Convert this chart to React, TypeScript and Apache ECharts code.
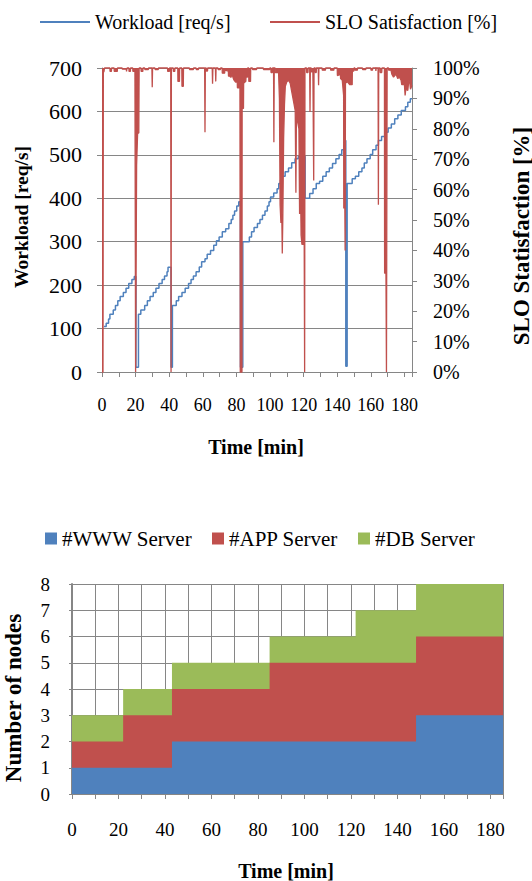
import React, { useEffect, useRef } from "react";
import * as echarts from "echarts";

const FONT = "Liberation Serif, Times New Roman, serif";
const BLUE = "#4F81BD";
const RED = "#C0504D";
const GREEN = "#9BBB59";
const GRAY = "#868686";

// ---- Top chart: workload [req/s] (time in min, value) ----
const workloadPoints: [number, number][] = [
  [1.2, 105], [2.5, 112], [3.9, 122], [4.7, 133], [6.7, 143], [8.0, 153], [9.4, 164], [10.8, 174],
  [12.7, 183], [14.3, 193], [15.9, 204], [17.8, 213], [19.2, 220], [20.2, 11],
  [21.7, 133], [23.1, 143], [25.4, 153], [27.0, 164], [28.6, 174], [30.5, 183], [32.1, 193],
  [33.9, 204], [35.8, 213], [37.2, 221], [38.7, 231], [39.3, 241], [41.1, 11],
  [41.9, 153], [44.2, 164], [45.6, 174], [47.6, 183], [49.5, 193], [51.5, 204], [53.0, 213],
  [54.4, 221], [56.0, 231], [57.9, 242], [59.3, 254], [61.3, 261], [62.6, 271], [64.6, 280],
  [66.5, 292], [68.1, 302], [69.7, 311], [71.6, 323], [73.6, 330], [75.5, 342], [76.9, 351],
  [77.9, 361], [78.9, 371], [80.2, 382], [81.4, 392], [82.4, 11],
  [83.8, 300], [87.7, 311], [89.0, 323], [90.5, 333], [92.5, 342], [94.0, 351], [95.5, 361],
  [97.0, 371], [98.4, 382], [99.4, 392], [100.3, 403], [102.2, 412], [104.2, 422], [105.2, 434],
  [106.2, 442], [107.1, 451], [109.0, 461], [111.0, 470], [112.9, 482], [114.9, 491], [116.8, 496],
  [120.9, 400], [123.6, 411], [125.6, 422], [127.5, 434], [129.5, 439], [131.4, 451], [133.4, 461],
  [135.3, 470], [137.2, 480], [139.2, 491], [141.1, 501], [142.7, 512], [144.0, 522], [144.6, 533],
  [145.1, 13], [145.9, 434], [148.9, 445], [150.8, 451], [152.8, 461], [154.7, 470], [156.1, 481],
  [157.7, 491], [159.6, 501], [161.1, 512], [163.1, 522], [164.5, 533], [166.4, 542], [168.3, 552],
  [170.3, 562], [172.2, 571], [174.2, 583], [176.1, 592], [178.1, 602], [180.6, 611], [182.0, 621],
  [183.5, 629], [184.5, 629],
];

// ---- Top chart: SLO satisfaction [%] (time in min, percent) ----
const sloPoints: [number, number][] = [
  [0, 0], [0.6, 0], [0.8, 100],
  [1.0, 100], [1.1, 98.6], [1.4, 98.6], [1.5, 100],
  [4.7, 100], [4.8, 98.9], [5.6, 98.9], [5.7, 100],
  [7.2, 100], [7.3, 98.9], [9.1, 98.9], [9.2, 100],
  [12.0, 100], [12.1, 99.6], [14.5, 99.6], [14.6, 98.9], [14.8, 99.6], [15.0, 100],
  [16.0, 100], [16.1, 98.9], [16.9, 98.9], [17.0, 100],
  [18.3, 100], [18.4, 98.9], [19.4, 98.9], [19.6, 100],
  [19.9, 100], [20.0, 0], [20.4, 0], [20.6, 68], [21.0, 68], [21.2, 78.6], [21.9, 78.6], [22.1, 100],
  [23.2, 100], [23.3, 98.9], [24.3, 98.9], [24.4, 100],
  [25.4, 100], [25.5, 99.5], [27.6, 99.5], [27.7, 100],
  [29.7, 100], [29.9, 93.7], [30.1, 100],
  [31.5, 100], [31.6, 99.5], [33.5, 99.5], [33.6, 100],
  [39.0, 100], [39.1, 98.9], [40.1, 98.9], [40.2, 100],
  [40.9, 100], [41.1, 0], [41.3, 100],
  [42.4, 100], [42.5, 98.9], [43.3, 98.9], [43.4, 100],
  [45.1, 100], [45.2, 95.6], [46.1, 95.6], [46.2, 100],
  [47.5, 100], [47.6, 94.0], [48.4, 94.0], [48.5, 100],
  [52.0, 100], [52.1, 99.5], [54.4, 99.5], [54.5, 100],
  [56.0, 100], [56.1, 99.5], [57.4, 99.5], [57.5, 100],
  [61.1, 100], [61.3, 78.9], [61.5, 100],
  [62.0, 100], [62.1, 99], [62.8, 99], [62.9, 100],
  [65.6, 100], [65.8, 94.8], [66.0, 100],
  [67.5, 100], [67.7, 95.6], [67.9, 100],
  [69.0, 100], [69.1, 99.5], [70.5, 99.5], [70.6, 100],
  [71.5, 100], [71.6, 98.3], [73.0, 98.3], [73.1, 99.3], [75.2, 99], [75.3, 97.3], [76.3, 97.3],
  [76.4, 97], [76.9, 97], [77.0, 98.5], [78.4, 96.2], [79.4, 95.4], [80.5, 95.4], [80.6, 93.5],
  [82.1, 93.5], [82.3, 0], [83.3, 0], [83.4, 86.7], [84.2, 86.7], [84.3, 95], [85.6, 95.6],
  [85.7, 97], [86.6, 97], [86.7, 100],
  [87.3, 100], [87.4, 95.6], [88.4, 95.6], [88.5, 100],
  [89.5, 100], [89.6, 99.5], [92.0, 99.5], [92.1, 100],
  [96.0, 100], [96.1, 99.5], [99.8, 99.5], [99.9, 100],
  [100.5, 100], [100.6, 98.5], [101.4, 98.5], [101.5, 100],
  [102.1, 100], [102.3, 75.6], [102.5, 100],
  [103.0, 100], [103.1, 98.5], [104.9, 98.5], [105.0, 100],
  [105.3, 100], [105.6, 90], [106.0, 55], [106.5, 49], [107.0, 52], [107.3, 39], [107.6, 50],
  [108.1, 77], [108.6, 88], [109.1, 94], [110.0, 95.5], [111.0, 96], [112.0, 95], [113.0, 92],
  [114.0, 89], [115.0, 86], [115.4, 59], [115.7, 84], [116.5, 82], [117.2, 80], [117.6, 52],
  [118.0, 70], [118.5, 45], [119.0, 42], [119.8, 42], [120.0, 100],
  [120.4, 100], [120.6, 0], [120.8, 100],
  [121.7, 100], [121.8, 98.5], [122.6, 98.5], [122.7, 100],
  [123.6, 100], [123.8, 85.5], [124.0, 100],
  [124.5, 100], [124.6, 98.7], [125.4, 98.7], [125.5, 100],
  [125.8, 100], [126.0, 63], [126.2, 100],
  [126.9, 100], [127.0, 98.5], [127.5, 98.5], [127.6, 100],
  [128.7, 100], [128.9, 94.3], [129.1, 100],
  [131.0, 100], [131.1, 99.3], [133.0, 99.3], [133.1, 100],
  [136.0, 100], [136.1, 99.3], [138.0, 99.3], [138.1, 100],
  [140.0, 100], [140.1, 97.5], [141.9, 98], [142.0, 96.5], [143.0, 96], [143.8, 91], [143.9, 53.8],
  [144.1, 93], [144.5, 93], [144.7, 40], [144.9, 95], [146.0, 95.5], [147.5, 94.5], [148.9, 94.5],
  [149.0, 99], [149.9, 99], [150.0, 100],
  [150.5, 100], [150.6, 99.3], [152.0, 99.3], [152.1, 100],
  [155.0, 100], [155.1, 99.5], [157.0, 99.5], [157.1, 100],
  [160.0, 100], [160.1, 99.3], [161.0, 99.3], [161.1, 100],
  [162.9, 100], [163.0, 99], [163.2, 100],
  [164.3, 100], [164.5, 55], [164.7, 100],
  [165.5, 100], [165.6, 98.5], [166.5, 98.5], [166.6, 100],
  [168.1, 100], [168.2, 32.5], [169.0, 32.5], [169.3, 0], [169.5, 0], [169.7, 100],
  [170.5, 100], [170.6, 99.3], [172.0, 99.3], [172.5, 98.0], [173.5, 97.0], [175.0, 98.0],
  [176.0, 96.5], [177.0, 97.0], [178.0, 96.0], [178.4, 94.5], [180.0, 94.5], [180.4, 91],
  [180.8, 93], [182.0, 92.6], [182.6, 96], [183.2, 95], [183.6, 93], [184.5, 94.3],
];

// ---- Bottom chart: number of nodes per tier (change times in min) ----
const nodeTimes = [0, 22, 43, 85, 122, 148, 185.4];
const wwwNodes = [1, 1, 2, 2, 2, 3, 3];
const appNodes = [1, 2, 2, 3, 3, 3, 3];
const dbNodes = [1, 1, 1, 1, 2, 2, 2];

const TOP_X_MAX = 184.5;
const BOTTOM_X_MAX = 185.4;

export default function App() {
  const ref = useRef<HTMLDivElement>(null);

  useEffect(() => {
    if (!ref.current) return;
    const chart = echarts.init(ref.current, undefined, { renderer: "svg" });

    const axisLabel = (size: number, margin: number, extra: any = {}) => ({
      fontFamily: FONT,
      fontSize: size,
      color: "#000",
      margin,
      ...extra,
    });
    const grayLine = { show: true, lineStyle: { color: GRAY, width: 1 } };
    const every20 = (v: number) => (Math.abs(v % 20) < 1e-6 ? String(v) : "");

    // cumulative tops of the stack, drawn back-to-front
    const wwwTop = wwwNodes.slice();
    const appTop = appNodes.map((v, i) => v + wwwNodes[i]);
    const dbTop = dbNodes.map((v, i) => v + appTop[i]);

    const stepSeries = (name: string, vals: number[], color: string, z: number) => ({
      name,
      type: "line",
      xAxisIndex: 1,
      yAxisIndex: 2,
      step: "end",
      symbol: "none",
      showSymbol: false,
      color,
      z,
      itemStyle: { color },
      lineStyle: { width: 0, color },
      areaStyle: { color, opacity: 1, origin: "start" },
      data: nodeTimes.map((t, i) => [t, vals[i]]),
    });

    const legendBase = {
      padding: 0,
      selectedMode: false,
      icon: "rect",
    };
    const legendText = (size: number) => ({ fontFamily: FONT, fontSize: size, color: "#000" });

    const titleText = (text: string, x: number, y: number, size: number, rotate: boolean) => ({
      type: "text",
      x,
      y,
      rotation: rotate ? Math.PI / 2 : 0,
      style: {
        text,
        fontFamily: FONT,
        fontWeight: "bold",
        fontSize: size,
        fill: "#000",
        align: "center",
        verticalAlign: "middle",
      },
    });

    const option: any = {
      animation: false,
      backgroundColor: "#fff",
      textStyle: { fontFamily: FONT, color: "#000" },
      legend: [
        { ...legendBase, left: 40, top: 12, itemWidth: 50, itemHeight: 2, textStyle: legendText(20), data: ["Workload [req/s]"] },
        { ...legendBase, left: 270, top: 12, itemWidth: 50, itemHeight: 2, textStyle: legendText(20), data: ["SLO Satisfaction [%]"] },
        { ...legendBase, left: 45, top: 528, itemWidth: 12, itemHeight: 12, textStyle: legendText(21), data: ["#WWW Server"] },
        { ...legendBase, left: 212, top: 528, itemWidth: 12, itemHeight: 12, textStyle: legendText(21), data: ["#APP Server"] },
        { ...legendBase, left: 358, top: 528, itemWidth: 12, itemHeight: 12, textStyle: legendText(21), data: ["#DB Server"] },
      ],
      grid: [
        { left: 102, top: 68, width: 310, height: 304 },
        { left: 72, top: 584, width: 431, height: 210 },
      ],
      xAxis: [
        {
          type: "value",
          gridIndex: 0,
          min: 0,
          max: TOP_X_MAX,
          interval: 10,
          axisLine: grayLine,
          axisTick: { show: true, length: 5, lineStyle: { color: GRAY } },
          splitLine: { show: false },
          axisLabel: axisLabel(18, 24, { formatter: every20 }),
        },
        {
          type: "value",
          gridIndex: 1,
          min: 0,
          max: BOTTOM_X_MAX,
          interval: 10,
          axisLine: grayLine,
          axisTick: { show: true, length: 5, lineStyle: { color: GRAY } },
          splitLine: { show: true, lineStyle: { color: GRAY, width: 1 } },
          axisLabel: axisLabel(19, 26, { formatter: every20 }),
        },
      ],
      yAxis: [
        {
          type: "value",
          gridIndex: 0,
          position: "left",
          min: 0,
          max: 700,
          interval: 100,
          axisLine: grayLine,
          axisTick: { show: true, length: 5, lineStyle: { color: GRAY } },
          splitLine: { show: true, lineStyle: { color: GRAY, width: 1 } },
          axisLabel: axisLabel(22, 20),
        },
        {
          type: "value",
          gridIndex: 0,
          position: "right",
          min: 0,
          max: 100,
          interval: 10,
          axisLine: grayLine,
          axisTick: { show: true, length: 5, lineStyle: { color: GRAY } },
          splitLine: { show: false },
          axisLabel: axisLabel(20, 21, { formatter: "{value}%" }),
        },
        {
          type: "value",
          gridIndex: 1,
          min: 0,
          max: 8,
          interval: 1,
          axisLine: { show: true, lineStyle: { color: GRAY, width: 2 } },
          axisTick: { show: true, length: 3, lineStyle: { color: GRAY } },
          splitLine: { show: true, lineStyle: { color: GRAY, width: 1 } },
          axisLabel: axisLabel(19, 22),
        },
      ],
      series: [
        {
          name: "Workload [req/s]",
          type: "line",
          xAxisIndex: 0,
          yAxisIndex: 0,
          step: "end",
          symbol: "none",
          showSymbol: false,
          color: BLUE,
          lineStyle: { color: BLUE, width: 1.5 },
          z: 2,
          data: workloadPoints,
        },
        {
          name: "SLO Satisfaction [%]",
          type: "line",
          xAxisIndex: 0,
          yAxisIndex: 1,
          symbol: "none",
          showSymbol: false,
          clip: false,
          color: RED,
          lineStyle: { color: RED, width: 1.3 },
          areaStyle: { color: RED, opacity: 1, origin: "end" },
          z: 3,
          data: sloPoints,
        },
        stepSeries("#DB Server", dbTop, GREEN, 2),
        stepSeries("#APP Server", appTop, RED, 3),
        stepSeries("#WWW Server", wwwTop, BLUE, 4),
      ],
      graphic: [
        titleText("Workload [req/s]", 21, 217, 19.5, true),
        titleText("SLO Statisfaction [%]", 521, 236, 23, true),
        titleText("Time [min]", 256, 447, 20, false),
        titleText("Number of nodes", 13, 698, 23, true),
        titleText("Time [min]", 286, 871, 20, false),
      ],
    };

    chart.setOption(option);
    return () => chart.dispose();
  }, []);

  return (
    <div
      ref={ref}
      style={{ position: "absolute", left: 0, top: 0, width: 532, height: 881, background: "#fff" }}
    />
  );
}
